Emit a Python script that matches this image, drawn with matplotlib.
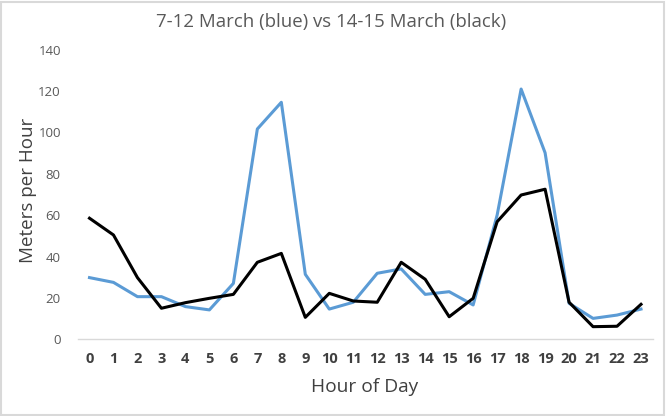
import matplotlib
matplotlib.use("Agg")
import matplotlib.pyplot as plt
from matplotlib.patches import Rectangle

# dati

HOURS = list(range(24))

BLUE_7_12 = [29.8, 27.5, 20.6, 20.6, 15.8, 14.2, 27.0, 101.6, 114.5, 31.4,
             14.6, 17.9, 31.9, 34.0, 21.7, 23.0, 16.6, 60.0, 120.9, 90.1,
             17.4, 10.1, 11.7, 14.6]

BLACK_14_15 = [58.5, 50.4, 29.8, 15.0, 17.7, 19.8, 21.7, 37.2, 41.5, 10.6,
               22.2, 18.5, 17.9, 37.2, 29.0, 10.9, 19.8, 56.8, 69.7, 72.5,
               17.9, 6.1, 6.3, 16.9]

Y_TICKS = [0, 20, 40, 60, 80, 100, 120, 140]

TITLE = "7-12 March (blue) vs 14-15 March (black)"
XLABEL = "Hour of Day"
YLABEL = "Meters per Hour"

plt.rcParams['font.family'] = ['Open Sans', 'DejaVu Sans']

W, H = 666, 416
fig = plt.figure(figsize=(W / 100, H / 100), dpi=100)

# area del grafico in pixel
left, right, top, bottom = 77.5, 653, 49.5, 339.3
ax = fig.add_axes([left / W, 1 - bottom / H, (right - left) / W, (bottom - top) / H])

ax.plot(HOURS, BLUE_7_12, color='#5b9bd5', lw=2.2, solid_joinstyle='round')
ax.plot(HOURS, BLACK_14_15, color='black', lw=2.2, solid_joinstyle='round')

ax.set_xlim(-0.5, 23.5)
ax.set_ylim(0, 140)
ax.set_xticks(HOURS)
ax.set_xticklabels([str(h) for h in HOURS], fontsize=10.5, fontweight='bold', color='#404040')
ax.set_yticks(Y_TICKS)
ax.set_yticklabels([str(v) for v in Y_TICKS], fontsize=9.5, color='#595959')
ax.tick_params(axis='both', length=0)
ax.tick_params(axis='x', pad=9)
ax.tick_params(axis='y', pad=12)

for s in ['top', 'right', 'left']:
    ax.spines[s].set_visible(False)
ax.spines['bottom'].set_color('#d9d9d9')
ax.spines['bottom'].set_linewidth(1)

fig.text(331 / W, 1 - 22 / H, TITLE, ha='center', va='center', fontsize=13.4, color='#595959')
fig.text(365 / W, 1 - 387 / H, XLABEL, ha='center', va='center', fontsize=13.8, color='#404040')
fig.text(28 / W, 1 - 190 / H, YLABEL, ha='center', va='center', rotation=90, fontsize=13.5, color='#404040')

# bordo dell'area del grafico
fig.patches.append(Rectangle((0.5 / W, 1.5 / H), (W - 3) / W, (H - 3) / H,
                             transform=fig.transFigure, fill=False,
                             edgecolor='#d9d9d9', lw=1.5))

fig.savefig('out.png', dpi=100)
